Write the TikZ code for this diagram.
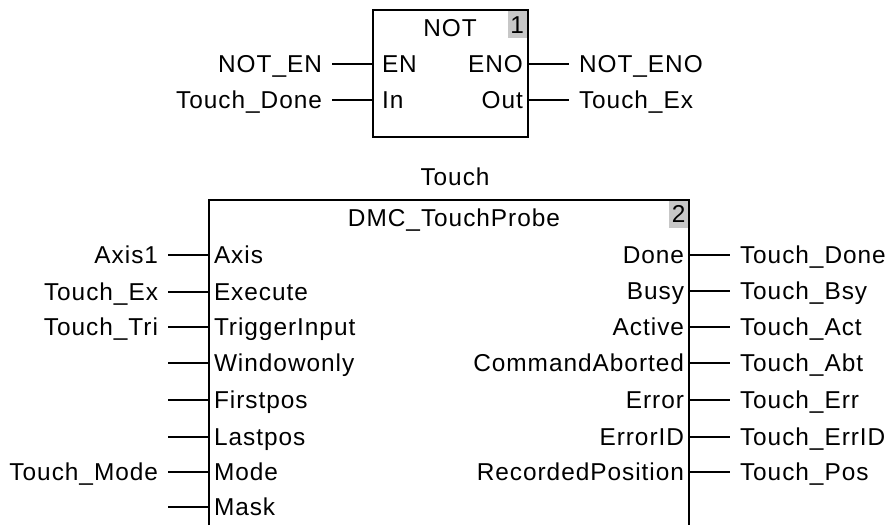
\documentclass[tikz,border=0pt]{standalone}
\usepackage{fontspec}
\setmainfont[LetterSpace=4]{Liberation Sans}
\usetikzlibrary{positioning}

\begin{document}
\begin{tikzpicture}[
        x=0.5pt, y=-0.5pt,
        node distance=20.5pt,
        font=\fontsize{12.2}{14}\selectfont,
        fb/.style={draw, line width=1pt, outer sep=0pt},
        num/.style={
            fill=black!22,
            inner sep=0pt,
            minimum width=9.5pt,
            minimum height=13.5pt,
            anchor=north east
        },
        port/.style={inner xsep=2.5pt, inner ysep=0pt, outer sep=0pt, text height=8.7pt, text depth=0pt},
        var/.style={inner xsep=5pt, inner ysep=0pt, outer sep=0pt, text height=8.7pt, text depth=0pt},
        wire/.style={line width=0.65pt}
    ]
        \useasboundingbox (0,0) rectangle (888,525);

        % NOT block
        \node[fb, anchor=north west, minimum width=77.5pt, minimum height=63.5pt] (notfb) at (373,10) {};
        \node[num] (notnum) at ([shift={(-0.5pt,-0.5pt)}]notfb.north east) {1};
        \node[port] (notname) at (450,28) {NOT};

        \node[port, anchor=west] (en) at (377,64) {EN};
        \node[port, anchor=west] (in) at (377,100) {In};
        \node[port, anchor=east] (eno) at (528,64) {ENO};
        \node[port, anchor=east] (out) at (528,100) {Out};

        \coordinate (enpin) at (373,64);
        \coordinate (inpin) at (373,100);
        \node[var, left=of enpin] (noten) {NOT\_EN};
        \node[var, left=of inpin] (touchdone1) {Touch\_Done};
        \node[var, right=of eno] (noteno) {NOT\_ENO};
        \node[var, right=of out] (touchex1) {Touch\_Ex};

        \draw[wire] (noten) -- (enpin);
        \draw[wire] (touchdone1) -- (inpin);
        \draw[wire] (eno) -- (noteno);
        \draw[wire] (out) -- (touchex1);

        % DMC_TouchProbe block
        \node[port] (inst) at (455,177) {Touch};
        \draw[fb] (209,525) |- (689,200) -- (689,525);
        \node[num] (tpnum) at (688.5,200.5) {2};
        \node[port] (tpname) at (454,218) {DMC\_TouchProbe};

        % inputs
        \node[port, anchor=west] (axis) at (209,255) {Axis};
        \node[port, anchor=west] (exe) at (209,292) {Execute};
        \node[port, anchor=west] (trig) at (209,327) {TriggerInput};
        \node[port, anchor=west] (win) at (209,363) {Windowonly};
        \node[port, anchor=west] (first) at (209,400) {Firstpos};
        \node[port, anchor=west] (last) at (209,437) {Lastpos};
        \node[port, anchor=west] (mode) at (209,472) {Mode};
        \node[port, anchor=west] (mask) at (209,507) {Mask};

        \node[var, left=of axis] (axis1) {Axis1};
        \node[var, left=of exe] (touchex2) {Touch\_Ex};
        \node[var, left=of trig] (touchtri) {Touch\_Tri};
        \coordinate[left=of win] (winL);
        \coordinate[left=of first] (firstL);
        \coordinate[left=of last] (lastL);
        \node[var, left=of mode] (touchmode) {Touch\_Mode};
        \coordinate[left=of mask] (maskL);

        \draw[wire] (axis1) -- (axis);
        \draw[wire] (touchex2) -- (exe);
        \draw[wire] (touchtri) -- (trig);
        \draw[wire] (winL) -- (win);
        \draw[wire] (firstL) -- (first);
        \draw[wire] (lastL) -- (last);
        \draw[wire] (touchmode) -- (mode);
        \draw[wire] (maskL) -- (mask);

        % outputs
        \node[port, anchor=east] (done) at (689,255) {Done};
        \node[port, anchor=east] (busy) at (689,291) {Busy};
        \node[port, anchor=east] (act) at (689,327) {Active};
        \node[port, anchor=east] (abt) at (689,363) {CommandAborted};
        \node[port, anchor=east] (err) at (689,400) {Error};
        \node[port, anchor=east] (errid) at (689,437) {ErrorID};
        \node[port, anchor=east] (pos) at (689,472) {RecordedPosition};

        \node[var, right=of done] (touchdone2) {Touch\_Done};
        \node[var, right=of busy] (touchbsy) {Touch\_Bsy};
        \node[var, right=of act] (touchact) {Touch\_Act};
        \node[var, right=of abt] (touchabt) {Touch\_Abt};
        \node[var, right=of err] (toucherr) {Touch\_Err};
        \node[var, right=of errid] (toucherrid) {Touch\_ErrID};
        \node[var, right=of pos] (touchpos) {Touch\_Pos};

        \draw[wire] (done) -- (touchdone2);
        \draw[wire] (busy) -- (touchbsy);
        \draw[wire] (act) -- (touchact);
        \draw[wire] (abt) -- (touchabt);
        \draw[wire] (err) -- (toucherr);
        \draw[wire] (errid) -- (toucherrid);
        \draw[wire] (pos) -- (touchpos);
    \end{tikzpicture}
\end{document}
